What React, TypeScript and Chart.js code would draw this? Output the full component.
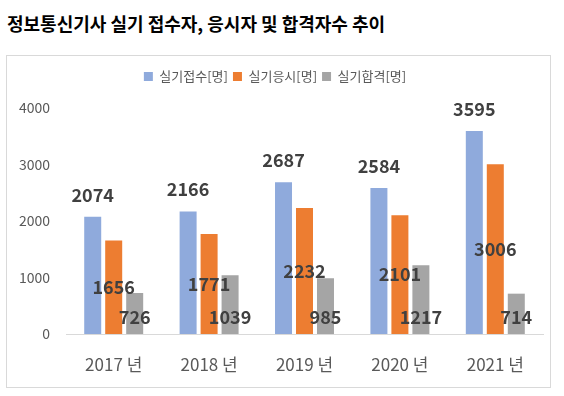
import React, { useEffect, useRef } from "react";
import { Chart, registerables } from "chart.js";

Chart.register(...registerables);

const titleText = "정보통신기사 실기 접수자, 응시자 및 합격자수 추이";
const categories = ["2017 년", "2018 년", "2019 년", "2020 년", "2021 년"];
const seriesNames = ["실기접수[명]", "실기응시[명]", "실기합격[명]"];
const applicants = [2074, 2166, 2687, 2584, 3595];
const examinees = [1656, 1771, 2232, 2101, 3006];
const passers = [726, 1039, 985, 1217, 714];
const yTicks = [0, 1000, 2000, 3000, 4000];
const colors = ["#8faadc", "#ed7d31", "#a5a5a5"];

const FONT = "'Noto Sans CJK KR', 'Noto Sans', sans-serif";

const labelPlugin = {
  id: "barLabels",
  beforeLayout(chart: any) {
    const lg = chart.legend;
    if (lg && !lg._extraPatched) {
      const orig = lg.fit.bind(lg);
      lg.fit = function () {
        orig();
        this.height += 15;
      };
      lg._extraPatched = true;
    }
  },
  afterDatasetsDraw(chart: any) {
    const ctx = chart.ctx;
    const base = chart.scales.y.getPixelForValue(0);
    ctx.save();
    ctx.font = "bold 18px " + FONT;
    ctx.fillStyle = "#404040";
    ctx.textAlign = "center";
    ctx.textBaseline = "middle";
    chart.data.datasets.forEach((ds: any, di: number) => {
      const meta = chart.getDatasetMeta(di);
      meta.data.forEach((bar: any, i: number) => {
        const v = ds.data[i];
        let y: number;
        if (di === 0) y = bar.y - 22;
        else if (di === 1) y = (bar.y + base) / 2;
        else y = base - 17;
        ctx.fillText(String(v), bar.x, y);
      });
    });
    ctx.restore();
  },
};

export default function App() {
  const ref = useRef<HTMLCanvasElement | null>(null);

  useEffect(() => {
    if (!ref.current) return;
    Chart.defaults.font.family = FONT;
    const chart = new Chart(ref.current, {
      type: "bar",
      data: {
        labels: categories,
        datasets: [
          { label: seriesNames[0], data: applicants, backgroundColor: colors[0] },
          { label: seriesNames[1], data: examinees, backgroundColor: colors[1] },
          { label: seriesNames[2], data: passers, backgroundColor: colors[2] },
        ],
      },
      options: {
        animation: false,
        responsive: false,
        maintainAspectRatio: false,
        layout: { padding: { left: 0, right: 7, top: 9, bottom: 0 } },
        datasets: {
          bar: { categoryPercentage: 0.66, barPercentage: 0.81 },
        },
        plugins: {
          legend: {
            position: "top",
            align: "center",
            labels: {
              boxWidth: 9,
              boxHeight: 9,
              padding: 5,
              color: "#595959",
              font: { size: 13, family: FONT },
            },
          },
          tooltip: { enabled: false },
        },
        scales: {
          x: {
            grid: { display: false, drawTicks: false },
            border: { display: true, color: "#d9d9d9", width: 1 },
            ticks: { color: "#595959", font: { size: 17, family: FONT }, padding: 20 },
            afterFit: (s: any) => {
              s.height = 53;
            },
          },
          y: {
            min: 0,
            max: 4000,
            grid: { display: false, drawTicks: false },
            border: { display: false },
            ticks: {
              color: "#595959",
              font: { size: 14, family: FONT },
              padding: 16,
              callback: (v: any) => String(v),
            },
            afterBuildTicks: (s: any) => {
              s.ticks = yTicks.map((v) => ({ value: v }));
            },
            afterFit: (s: any) => {
              s.width = 59;
            },
          },
        },
      },
      plugins: [labelPlugin],
    } as any);
    return () => chart.destroy();
  }, []);

  return (
    <div style={{ position: "fixed", left: 0, top: 0, width: 564, height: 396, background: "#fff" }}>
      <div
        style={{
          position: "absolute",
          left: 7,
          top: 11,
          fontFamily: FONT,
          fontWeight: "bold",
          fontSize: 18,
          lineHeight: "24px",
          color: "#000",
          whiteSpace: "nowrap",
        }}
      >
        {titleText}
      </div>
      <div
        style={{
          position: "absolute",
          left: 6,
          top: 55,
          width: 545,
          height: 333,
          boxSizing: "border-box",
          border: "1px solid #d9d9d9",
        }}
      >
        <canvas ref={ref} width={543} height={331} style={{ display: "block", width: 543, height: 331 }} />
      </div>
    </div>
  );
}
